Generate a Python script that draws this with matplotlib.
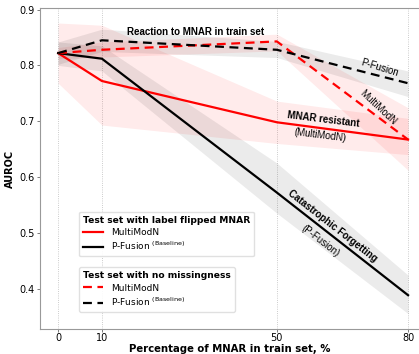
import matplotlib
matplotlib.use("Agg")
import matplotlib.pyplot as plt
from matplotlib.lines import Line2D

x = [0, 10, 50, 80]

# MultiModN, test set with label flipped MNAR (solid red)
mm_flip = [0.822, 0.772, 0.698, 0.667]
mm_flip_lo = [0.768, 0.693, 0.660, 0.640]
mm_flip_hi = [0.876, 0.872, 0.736, 0.705]

# P-Fusion, test set with label flipped MNAR (solid black)
pf_flip = [0.822, 0.812, 0.572, 0.388]
pf_flip_lo = [0.800, 0.790, 0.535, 0.355]
pf_flip_hi = [0.842, 0.835, 0.625, 0.424]

# MultiModN, test set with no missingness (dashed red)
mm_full = [0.822, 0.828, 0.843, 0.667]
mm_full_lo = [0.812, 0.815, 0.826, 0.612]
mm_full_hi = [0.832, 0.842, 0.856, 0.724]

# P-Fusion, test set with no missingness (dashed black)
pf_full = [0.822, 0.845, 0.828, 0.768]
pf_full_lo = [0.802, 0.825, 0.814, 0.744]
pf_full_hi = [0.842, 0.865, 0.843, 0.790]

xticks = [0, 10, 50, 80]
yticks = [0.4, 0.5, 0.6, 0.7, 0.8, 0.9]

RED = "#ff0000"
fig = plt.figure(figsize=(4.19, 3.54), dpi=100)
ax = fig.add_axes([0.095, 0.07, 0.905, 0.906])

ax.fill_between(x, mm_flip_lo, mm_flip_hi, color=RED, alpha=0.08, lw=0)
ax.fill_between(x, mm_full_lo, mm_full_hi, color=RED, alpha=0.08, lw=0)
ax.fill_between(x, pf_flip_lo, pf_flip_hi, color="black", alpha=0.08, lw=0)
ax.fill_between(x, pf_full_lo, pf_full_hi, color="black", alpha=0.08, lw=0)

ax.plot(x, mm_flip, color=RED, lw=1.6)
ax.plot(x, pf_flip, color="black", lw=1.6)
ax.plot(x, mm_full, color=RED, lw=1.6, ls=(0, (4, 2.5)))
ax.plot(x, pf_full, color="black", lw=1.6, ls=(0, (4, 2.5)))

for xv in xticks:
    ax.axvline(xv, color="#bbbbbb", lw=0.6, ls=":", zorder=0)

ax.set_xlim(-4.2, 82.5)
ax.set_ylim(0.327, 0.902)
ax.set_xticks(xticks)
ax.set_yticks(yticks)
ax.set_yticklabels([f"{v:.1f}" for v in yticks])
ax.tick_params(labelsize=7, length=2.5, width=0.6, color="#666666", pad=1)
ax.tick_params(axis="x", pad=0.5)
for s in ["left", "bottom", "top"]:
    ax.spines[s].set_color("#999999")
    ax.spines[s].set_linewidth(0.8)
ax.spines["right"].set_visible(False)

ax.set_xlabel("Percentage of MNAR in train set, %", fontsize=7.3, fontweight="bold", labelpad=0.3)
ax.set_ylabel("AUROC", fontsize=7, fontweight="bold", labelpad=3)

af = "Liberation Sans"
fs = 7.0
ax.text(31.4, 0.859, "Reaction to MNAR in train set", fontsize=fs, fontweight="bold",
        family=af, ha="center", va="center")
ax.text(73.6, 0.796, "P-Fusion", fontsize=fs, family=af, ha="center", va="center", rotation=-17)
ax.text(73.2, 0.724, "MultiModN", fontsize=fs, family=af, ha="center", va="center", rotation=-43)
ax.text(60.6, 0.703, "MNAR resistant", fontsize=fs, fontweight="bold", family=af,
        ha="center", va="center", rotation=-7)
ax.text(59.9, 0.674, "(MultiModN)", fontsize=fs, family=af, ha="center", va="center", rotation=-7)
ax.text(62.8, 0.512, "Catastrophic Forgetting", fontsize=fs, fontweight="bold", family=af,
        ha="center", va="center", rotation=-38)
ax.text(59.9, 0.486, "(P-Fusion)", fontsize=fs, family=af, ha="center", va="center", rotation=-38)

base = r"P-Fusion $^{\mathrm{(Baseline)}}$"
h1 = [Line2D([], [], color=RED, lw=1.6), Line2D([], [], color="black", lw=1.6)]
h2 = [Line2D([], [], color=RED, lw=1.6, ls=(0, (4, 2.5))),
      Line2D([], [], color="black", lw=1.6, ls=(0, (4, 2.5)))]
leg_kw = dict(fontsize=6.5, title_fontproperties={"weight": "bold", "size": 6.6},
              handlelength=2.2, handletextpad=0.9, labelspacing=0.35, borderpad=0.45,
              borderaxespad=0, framealpha=0.9, edgecolor="#dddddd", fancybox=True)
leg1 = ax.legend(h1, ["MultiModN", base], title="Test set with label flipped MNAR",
                 loc="upper left", bbox_to_anchor=(0.103, 0.367), **leg_kw)
leg1._legend_box.align = "left"
ax.add_artist(leg1)
leg2 = ax.legend(h2, ["MultiModN", base], title="Test set with no missingness",
                 loc="upper left", bbox_to_anchor=(0.103, 0.193), **leg_kw)
leg2._legend_box.align = "left"

fig.savefig("out.png", dpi=100)
